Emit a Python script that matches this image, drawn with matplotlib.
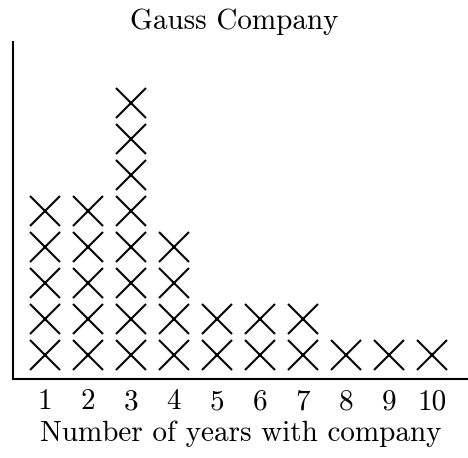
import matplotlib
matplotlib.use('Agg')
import matplotlib.pyplot as plt

# Dados: anos na empresa e quantidade de funcionarios
anos = [1, 2, 3, 4, 5, 6, 7, 8, 9, 10]
contagem = [5, 5, 8, 4, 2, 2, 2, 1, 1, 1]
rotulos = [str(a) for a in anos]

plt.rcParams['font.family'] = 'cmr10'
plt.rcParams['axes.formatter.use_mathtext'] = True

fig = plt.figure(figsize=(4.68, 4.58), dpi=100)
ax = fig.add_axes([0.0278, 0.1725, 0.9722, 0.7355])

# Um X para cada funcionario
xs = []
ys = []
for a, c in zip(anos, contagem):
    for k in range(1, c + 1):
        xs.append(a)
        ys.append(k)
ax.plot(xs, ys, linestyle='none', marker='x', markersize=21.5,
        markeredgewidth=1.5, color='black')

ax.set_xlim(0.26, 10.84)
ax.set_ylim(0.33, 9.69)
ax.spines['top'].set_visible(False)
ax.spines['right'].set_visible(False)
ax.spines['left'].set_linewidth(1.5)
ax.spines['bottom'].set_linewidth(1.5)
ax.set_xticks(anos)
ax.set_xticklabels(rotulos, fontsize=21)
ax.set_yticks([])
ax.tick_params(axis='x', length=0, pad=7)

ax.set_xlabel('Number of years with company', fontsize=21, labelpad=4)
fig.text(0.5, 0.952, 'Gauss Company', ha='center', va='center', fontsize=21)

fig.savefig('out.png', dpi=100)
